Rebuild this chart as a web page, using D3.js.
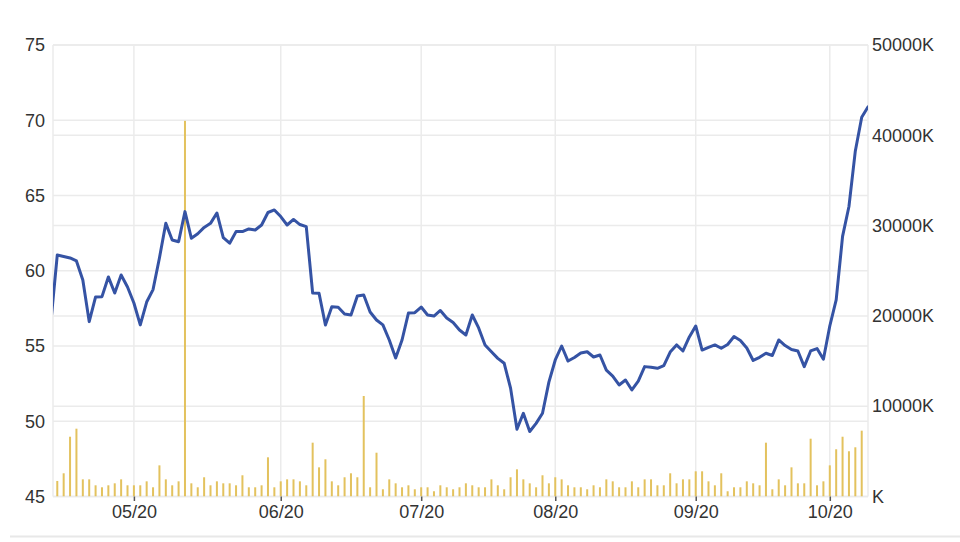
<!DOCTYPE html>
<html>
<head>
<meta charset="utf-8">
<script src="https://cdn.jsdelivr.net/npm/d3@7/dist/d3.min.js"></script>
<style>
  html, body { margin: 0; padding: 0; background: #fff; }
  svg { display: block; }
  text { font-family: "Liberation Sans", Arial, sans-serif; }
</style>
</head>
<body>
<svg id="chart" width="960" height="542"></svg>
<script>
// ---- Data (trading-day index 0..128) ----
const priceValues = [
  56.6, 61.05, 60.95, 60.85, 60.65, 59.39, 56.62, 58.26, 58.28, 59.59,
  58.52, 59.72, 58.92, 57.86, 56.40, 57.92, 58.75, 60.85, 63.15, 62.04,
  61.93, 63.93, 62.16, 62.46, 62.88, 63.15, 63.84, 62.2, 61.83, 62.6,
  62.6, 62.78, 62.71, 63.04, 63.87, 64.04, 63.6, 63.04, 63.41, 63.07,
  62.93, 58.52, 58.5, 56.4, 57.6, 57.57, 57.13, 57.06, 58.32, 58.39,
  57.26, 56.73, 56.4, 55.4, 54.2, 55.4, 57.19, 57.21, 57.59, 57.06,
  56.99, 57.36, 56.86, 56.56, 56.06, 55.73, 57.06, 56.2, 55.07, 54.62,
  54.18, 53.85, 52.2, 49.47, 50.53, 49.32, 49.86, 50.53, 52.6, 54.07,
  55.0, 54.0, 54.24, 54.54, 54.62, 54.27, 54.4, 53.4, 53.0, 52.41,
  52.74, 52.08, 52.67, 53.63, 53.59, 53.52, 53.7, 54.6, 55.07, 54.67,
  55.6, 56.33, 54.73, 54.91, 55.07, 54.85, 55.1, 55.63, 55.37, 54.87,
  54.04, 54.25, 54.52, 54.37, 55.4, 55.03, 54.77, 54.67, 53.63, 54.67,
  54.83, 54.12, 56.33, 58.06, 62.28, 64.27, 67.96, 70.2, 70.9
];
// volume in K (thousands)
const volumeValues = [
  null, 1720, 2570, 6620, 7510, 1900, 1900, 1240, 1020, 1240,
  1460, 1900, 1240, 1240, 1240, 1680, 1020, 3450, 1900, 1240,
  1680, 41600, 1460, 1020, 2130, 1240, 1680, 1460, 1460, 1240,
  2350, 1020, 1020, 1240, 4340, 1020, 1680, 1900, 1900, 1680,
  1240, 5960, 3230, 4120, 1680, 1240, 2130, 2570, 2130, 11130,
  1020, 4850, 800, 1900, 1460, 1020, 1240, 800, 1020, 1020,
  580, 1240, 1020, 800, 1020, 1460, 1240, 1020, 1020, 1900,
  1240, 800, 2130, 3010, 1900, 1460, 1020, 2350, 1460, 2130,
  1900, 1240, 1020, 1020, 800, 1240, 1020, 1900, 1680, 1020,
  1020, 1680, 1020, 1900, 1900, 1240, 1240, 2570, 1460, 1900,
  1900, 2790, 2790, 1680, 1240, 2570, 580, 1020, 1020, 1680,
  1460, 1240, 5960, 800, 1900, 1240, 3230, 1460, 1460, 6400,
  1240, 1680, 3450, 5230, 6620, 5010, 5450, 7290, null
];
const monthTickIndex = [13, 36, 58, 79, 101, 122];
const monthTickLabels = ["05/20", "06/20", "07/20", "08/20", "09/20", "10/20"];
const priceTicks = [45, 50, 55, 60, 65, 70, 75];
const volumeTicks = [0, 10000, 20000, 30000, 40000, 50000];

// ---- Layout ----
const plotLeft = 53, plotRight = 868, plotTop = 45, plotBottom = 496.5;
const svg = d3.select("#chart");

const x = d3.scaleLinear().domain([0, priceValues.length - 1]).range([50.9, 868.1]);
const yP = d3.scaleLinear().domain([45, 75]).range([plotBottom, plotTop]);
const yV = d3.scaleLinear().domain([0, 50000]).range([plotBottom, plotTop]);

const gridColor = "#ebebeb";

// clip
svg.append("defs").append("clipPath").attr("id", "plotClip")
  .append("rect").attr("x", plotLeft).attr("y", plotTop - 5)
  .attr("width", plotRight - plotLeft).attr("height", plotBottom - plotTop + 5);

// gridlines
const grid = svg.append("g");
grid.selectAll("line.hp").data(priceTicks).join("line")
  .attr("x1", plotLeft).attr("x2", plotRight)
  .attr("y1", d => yP(d)).attr("y2", d => yP(d))
  .attr("stroke", gridColor).attr("stroke-width", 1.5);
grid.selectAll("line.hv").data(volumeTicks).join("line")
  .attr("x1", plotLeft).attr("x2", plotRight)
  .attr("y1", d => yV(d)).attr("y2", d => yV(d))
  .attr("stroke", gridColor).attr("stroke-width", 1.5);
grid.selectAll("line.v").data(monthTickIndex).join("line")
  .attr("x1", d => x(d)).attr("x2", d => x(d))
  .attr("y1", plotTop).attr("y2", plotBottom)
  .attr("stroke", gridColor).attr("stroke-width", 1.5);
grid.append("line").attr("x1", plotLeft).attr("x2", plotLeft)
  .attr("y1", plotTop).attr("y2", plotBottom).attr("stroke", gridColor).attr("stroke-width", 1.5);
grid.append("line").attr("x1", plotRight).attr("x2", plotRight)
  .attr("y1", plotTop).attr("y2", plotBottom).attr("stroke", gridColor).attr("stroke-width", 1.5);

// volume bars
const barData = volumeValues.map((v, i) => ({ i, v })).filter(d => d.v != null);
svg.append("g").attr("clip-path", "url(#plotClip)")
  .selectAll("rect").data(barData).join("rect")
  .attr("x", d => x(d.i) - 1)
  .attr("width", 2)
  .attr("y", d => yV(d.v))
  .attr("height", d => plotBottom - yV(d.v))
  .attr("fill", "#e3c25e");

// price line
const line = d3.line().x((d, i) => x(i)).y(d => yP(d));
svg.append("g").attr("clip-path", "url(#plotClip)")
  .append("path").datum(priceValues)
  .attr("d", line)
  .attr("fill", "none")
  .attr("stroke", "#3553a4")
  .attr("stroke-width", 3)
  .attr("stroke-linejoin", "round")
  .attr("stroke-linecap", "round");

// axes
const fontSize = 18, textColor = "#333";
const xAxis = svg.append("g").attr("transform", `translate(0,${plotBottom})`)
  .call(d3.axisBottom(x).tickValues(monthTickIndex)
    .tickFormat((d, i) => monthTickLabels[i]).tickSize(4.5).tickPadding(4.5));
xAxis.select(".domain").remove();
xAxis.selectAll(".tick line").attr("stroke", "#555").attr("stroke-width", 1.5);
xAxis.selectAll("text").attr("font-size", fontSize).attr("fill", textColor)
  .attr("font-family", "'Liberation Sans', Arial, sans-serif");

const yAxisL = svg.append("g").attr("transform", `translate(${plotLeft},0)`)
  .call(d3.axisLeft(yP).tickValues(priceTicks).tickFormat(d3.format("d")).tickSize(0).tickPadding(8));
yAxisL.select(".domain").remove();
yAxisL.selectAll("text").attr("font-size", fontSize).attr("fill", textColor)
  .attr("font-family", "'Liberation Sans', Arial, sans-serif");

const yAxisR = svg.append("g").attr("transform", `translate(${plotRight},0)`)
  .call(d3.axisRight(yV).tickValues(volumeTicks)
    .tickFormat(d => (d === 0 ? "" : d) + "K").tickSize(0).tickPadding(4));
yAxisR.select(".domain").remove();
yAxisR.selectAll("text").attr("font-size", fontSize).attr("fill", textColor)
  .attr("font-family", "'Liberation Sans', Arial, sans-serif");

// bottom separator
svg.append("line").attr("x1", 10).attr("x2", 960).attr("y1", 536.5).attr("y2", 536.5)
  .attr("stroke", "#e8e8e8").attr("stroke-width", 2);
</script>
</body>
</html>
